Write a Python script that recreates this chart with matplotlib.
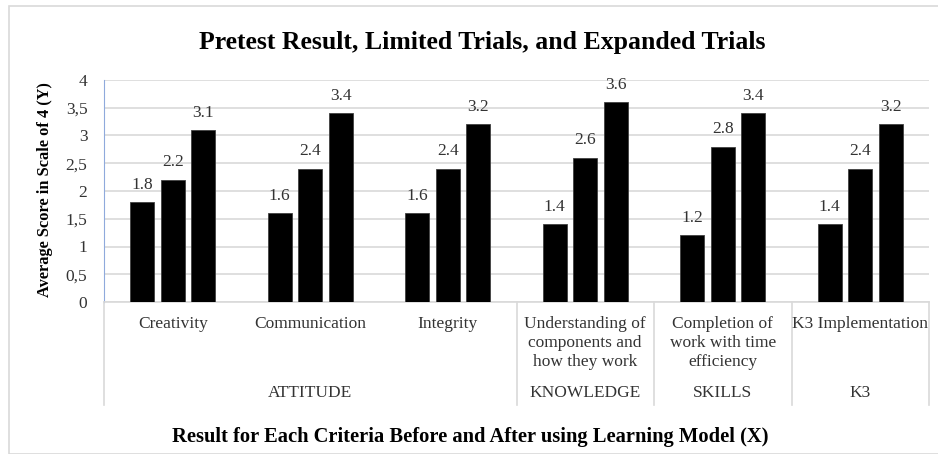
import numpy as np
import matplotlib
matplotlib.use("Agg")
import matplotlib.pyplot as plt
from matplotlib.patches import Rectangle
from matplotlib.ticker import FuncFormatter
import matplotlib.transforms as mtransforms

categories = ["Creativity", "Communication", "Integrity",
              "Understanding of\ncomponents and\nhow they work",
              "Completion of\nwork with time\nefficiency",
              "K3 Implementation"]
groups = ["ATTITUDE", "KNOWLEDGE", "SKILLS", "K3"]
group_sizes = [3, 1, 1, 1]
pretest = [1.8, 1.6, 1.6, 1.4, 1.2, 1.4]
limited = [2.2, 2.4, 2.4, 2.6, 2.8, 2.4]
expanded = [3.1, 3.4, 3.2, 3.6, 3.4, 3.2]

plt.rcParams['font.family'] = ['Liberation Serif', 'DejaVu Serif']
txt = '#333333'

fig = plt.figure(figsize=(9.38, 4.54), dpi=100)
ax = fig.add_axes([104/938, 1-302/454, 825/938, 222/454])

# outer frame
fig.patches.append(Rectangle((9/938, 0), 1.0, 1-6/454, transform=fig.transFigure,
                             fill=False, edgecolor='#d9d9d9', linewidth=1.2))

x = np.arange(len(categories))
w = 0.175
step = 0.222
for off, vals in zip([-step, 0, step], [pretest, limited, expanded]):
    bars = ax.bar(x + off, vals, w, color='black', edgecolor='#404040', linewidth=0.6, zorder=3)
    for b, v in zip(bars, vals):
        ax.text(b.get_x() + b.get_width()/2, v + 0.17, f"{v:.1f}", ha='center', va='bottom',
                fontsize=12.5, color=txt)

ax.set_xlim(-0.5, len(categories) - 0.5)
ax.set_ylim(0, 4)
ax.set_yticks(np.arange(0, 4.01, 0.5))
ax.yaxis.set_major_formatter(FuncFormatter(lambda v, p: f"{v:g}".replace('.', ',')))
ax.tick_params(axis='y', length=0, pad=12, labelsize=12.5, labelcolor=txt)
ax.set_xticks([])
ax.grid(axis='y', color='#d9d9d9', linewidth=1.2, zorder=0)
for s in ['top', 'right']:
    ax.spines[s].set_visible(False)
ax.spines['left'].set_color('#8faadc')
ax.spines['bottom'].set_color('#d9d9d9')
ax.spines['bottom'].set_linewidth(1.2)

trans = mtransforms.blended_transform_factory(ax.transData, ax.transAxes)
for xi, lab in zip(x, categories):
    ax.text(xi, -0.065, lab, transform=trans, ha='center', va='top', fontsize=12.5,
            color=txt, linespacing=1.22)

start = 0
bounds = [-0.5]
for g, n in zip(groups, group_sizes):
    ax.text(start + (n - 1)/2, -0.41, g, transform=trans, ha='center', va='center',
            fontsize=12.5, color=txt)
    start += n
    bounds.append(start - 0.5)
for b in bounds:
    ax.plot([b, b], [0, -0.464], transform=trans, color='#d9d9d9', linewidth=1.2, clip_on=False)

fig.text(482/938, 1-42/454, "Pretest Result, Limited Trials, and Expanded Trials",
         ha='center', va='center', fontsize=18.5, fontweight='bold')
fig.text(45/938, 1-190/454, "Average Score in Scale of 4 (Y)", rotation=90,
         ha='center', va='center', fontsize=11.8, fontweight='bold')
fig.text(470/938, 1-437/454, "Result for Each Criteria Before and After using Learning Model (X)",
         ha='center', va='center', fontsize=14.8, fontweight='bold')

fig.savefig("out.png", dpi=100)
